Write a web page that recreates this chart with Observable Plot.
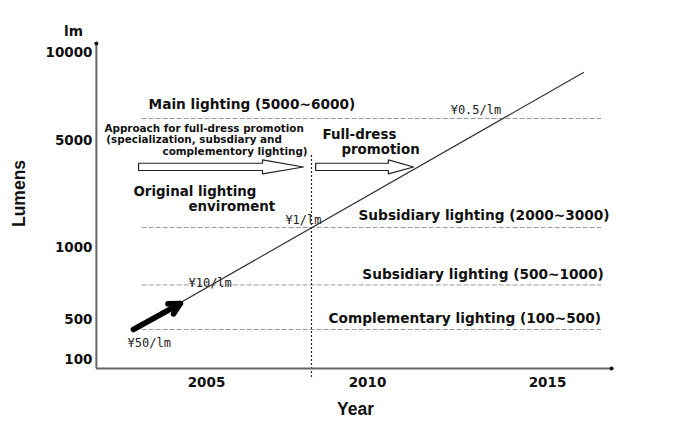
<!DOCTYPE html>
<html><head><meta charset="utf-8">
<script src="https://cdn.jsdelivr.net/npm/d3@7"></script>
<script src="https://cdn.jsdelivr.net/npm/@observablehq/plot@0.6"></script>
<style>body{margin:0;background:#fff}</style>
</head><body><div id="chart"></div>
<script>
// ---- data ----
const yTicks = [100, 500, 1000, 5000, 10000];
const xTicks = [2005, 2010, 2015];

const levelNames = ["Main lighting (5000~6000)", "Subsidiary lighting (2000~3000)", "Subsidiary lighting (500~1000)", "Complementary lighting (100~500)"];
const levelLumens = [6250, 1750, 740, 400];
const levelSpan = [2003.0, 2016.5];
const levelLabelYears = [2003.2, 2009.72, 2009.84, 2008.79];
const levelLabelLumens = [7050, 2196, 812, 507];

const trendYears = [2002.73, 2016.0];
const trendLumens = [400, 8864];
const leadArrowYears = [2002.73, 2004.19];
const leadArrowLumens = [400, 611];

const priceLabels = ["¥50/lm", "¥10/lm", "¥1/lm", "¥0.5/lm"];
const priceYears = [2002.55, 2004.44, 2007.45, 2012.31];
const priceLumens = [260, 750, 2009, 6705];

const dividerYear = 2008.26;
const dividerLumens = [4440, -80];

const noteLines = ["Approach for full-dress promotion", "(specialization, subsdiary and", "complementory lighting)"];
const noteYears = [2001.83, 2001.89, 2008.14];
const noteLumens = [5682, 5057, 4588];
const noteAnchors = ["start", "start", "end"];

const phaseLines = ["Full-dress", "promotion", "Original lighting", "enviroment"];
const phaseYears = [2008.6, 2009.19, 2002.73, 2004.44];
const phaseLumens = [5320, 4640, 3093, 2533];

// hollow phase arrows
const phaseArrowStart = [2002.89, 2008.39];
const phaseArrowHead = [2006.74, 2010.58];
const phaseArrowTip = [2008.01, 2011.28];
const phaseArrowLumens = {center: 4009, shaft: [3878, 4150], head: [3755, 4278]};

// axis frame
const axisYear = 2001.58;
const axisFloorLumens = 10;
const axisTopLumens = 10512;
const axisEndYear = 2016.78;

// ---- build tables ----
const levels = levelNames.map((name, i) => ({name, v: levelLumens[i], lx: levelLabelYears[i], ly: levelLabelLumens[i]}));
const trend = trendYears.map((x, i) => ({x, y: trendLumens[i]}));
const prices = priceLabels.map((t, i) => ({t, x: priceYears[i], y: priceLumens[i]}));
const notes = noteLines.map((t, i) => ({t, x: noteYears[i], y: noteLumens[i], a: noteAnchors[i]}));
const phases = phaseLines.map((t, i) => ({t, x: phaseYears[i], y: phaseLumens[i]}));
const outline = [];
phaseArrowStart.forEach((x0, i) => {
  const b = phaseArrowHead[i], tip = phaseArrowTip[i], L = phaseArrowLumens;
  [[x0, L.shaft[1]], [b, L.shaft[1]], [b, L.head[1]], [tip, L.center], [b, L.head[0]], [b, L.shaft[0]], [x0, L.shaft[0]], [x0, L.shaft[1]]]
    .forEach(([x, y]) => outline.push({id: i, x, y}));
});

const big = {fontFamily: "DejaVu Sans", fontWeight: "bold", fontSize: 13.7, fill: "#111"};
const phaseFont = {fontFamily: "DejaVu Sans", fontWeight: "bold", fontSize: 13.4, fill: "#111"};
const small = {fontFamily: "DejaVu Sans", fontWeight: "bold", fontSize: 10.4, fill: "#111"};

const chart = Plot.plot({
  width: 673, height: 432,
  marginLeft: 96, marginRight: 62, marginTop: 43, marginBottom: 64,
  style: {fontFamily: "DejaVu Sans", fontSize: "13.5px", fontWeight: "bold", color: "#111", background: "white"},
  x: {type: "linear", domain: xTicks, range: [206, 367, 547], ticks: xTicks, tickSize: 0, tickPadding: 9, tickFormat: d => String(d), label: null},
  y: {type: "linear", domain: yTicks, range: [359, 319, 247, 140, 52], ticks: yTicks, tickSize: 0, tickPadding: 4, tickFormat: d => String(d), label: null},
  marks: [
    Plot.ruleY(levels, {y: "v", x1: levelSpan[0], x2: levelSpan[1], stroke: "#9a9a9a", strokeDasharray: "5,2", strokeWidth: 1}),
    Plot.ruleX([dividerYear], {y1: dividerLumens[0], y2: dividerLumens[1], stroke: "#222", strokeDasharray: "2,2", strokeWidth: 1.2}),
    Plot.ruleX([axisYear], {y1: axisFloorLumens, y2: axisTopLumens, stroke: "#666", strokeWidth: 2}),
    Plot.ruleY([axisFloorLumens], {x1: axisYear, x2: axisEndYear, stroke: "#666", strokeWidth: 2}),
    Plot.dot([{x: axisYear, y: axisTopLumens}, {x: axisEndYear, y: axisFloorLumens}], {x: "x", y: "y", r: 2, fill: "#111"}),
    Plot.line(trend, {x: "x", y: "y", stroke: "#333", strokeWidth: 1.2}),
    Plot.arrow([0], {x1: leadArrowYears[0], y1: leadArrowLumens[0], x2: leadArrowYears[1], y2: leadArrowLumens[1], stroke: "#000", strokeWidth: 5.5, headLength: 3.4, headAngle: 55}),
    Plot.line(outline, {x: "x", y: "y", z: "id", stroke: "#222", strokeWidth: 1.2, fill: "white"}),
    Plot.text(levels, {x: "lx", y: "ly", text: "name", textAnchor: "start", ...big}),
    Plot.text(phases, {x: "x", y: "y", text: "t", textAnchor: "start", ...phaseFont}),
    Plot.text(notes.filter(d => d.a === "start"), {x: "x", y: "y", text: "t", textAnchor: "start", ...small}),
    Plot.text(notes.filter(d => d.a === "end"), {x: "x", y: "y", text: "t", textAnchor: "end", ...small}),
    Plot.text(prices, {x: "x", y: "y", text: "t", textAnchor: "start", fontFamily: "DejaVu Sans Mono", fontWeight: "normal", fontSize: 12, fill: "#222"}),
    Plot.text(["lm"], {x: 2000.87, y: 11193, ...big}),
    Plot.text(["Lumens"], {x: 1999.19, y: 3019, rotate: -90, fontFamily: "Liberation Sans", fontWeight: "bold", fontSize: 17.5, fill: "#111"}),
    Plot.text(["Year"], {x: 2009.63, y: -400, fontFamily: "Liberation Sans", fontWeight: "bold", fontSize: 17.5, fill: "#111"})
  ]
});
document.getElementById("chart").appendChild(chart);
</script>
</body></html>
